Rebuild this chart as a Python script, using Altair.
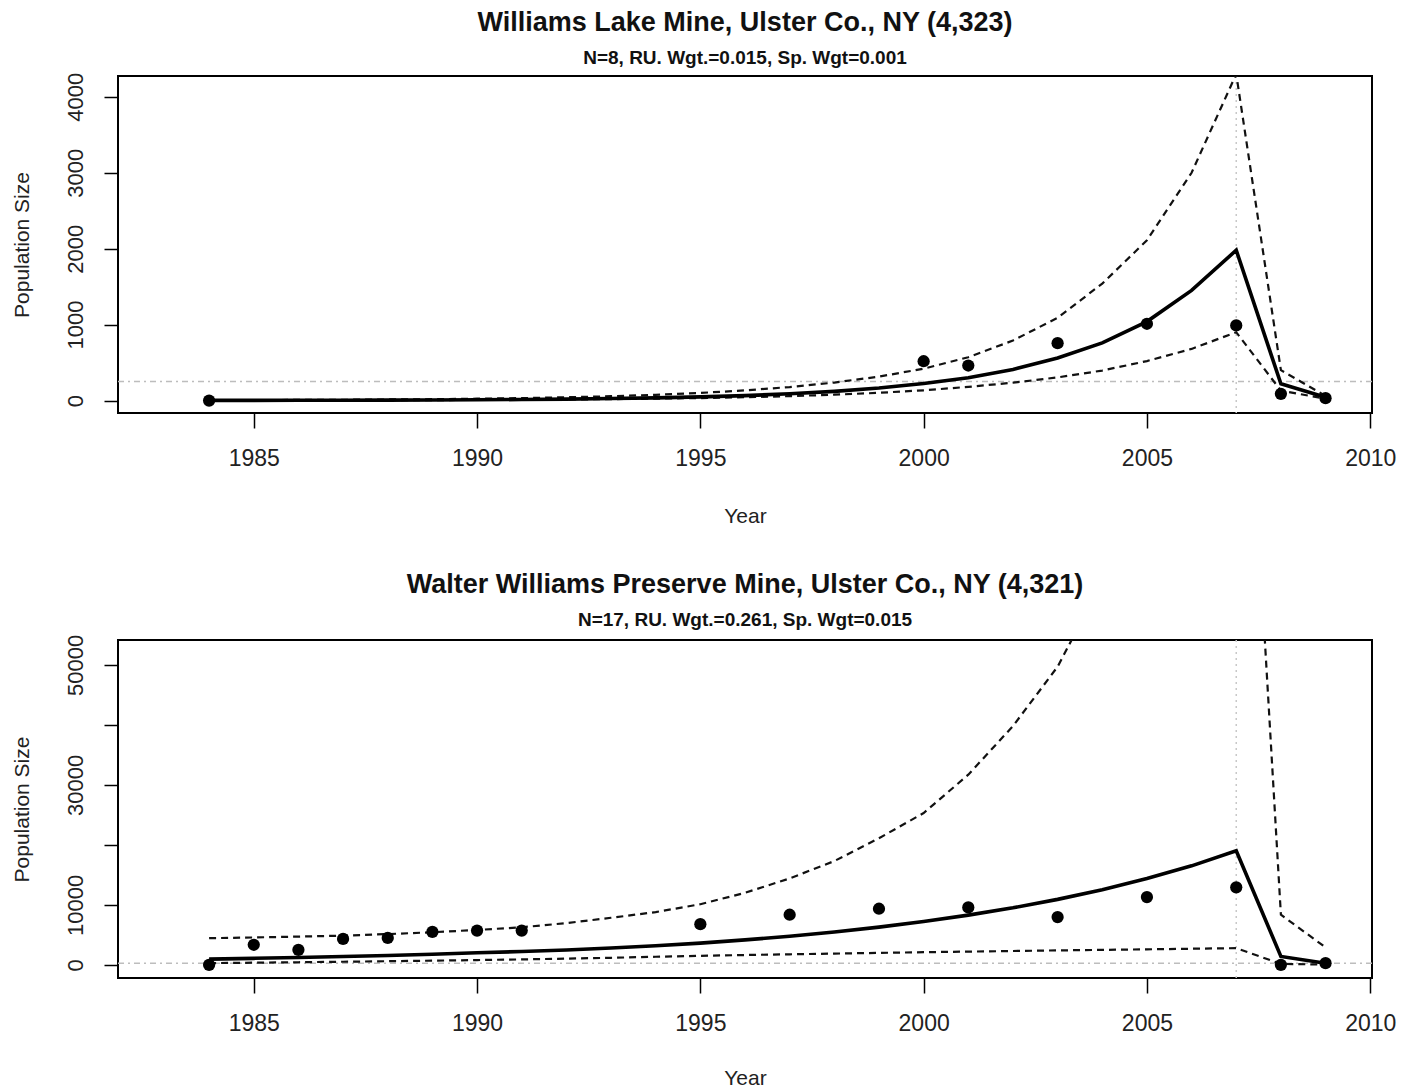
import altair as alt
import pandas as pd

# ---------------- data ----------------
years = [1984, 1985, 1986, 1987, 1988, 1989, 1990, 1991, 1992, 1993, 1994, 1995, 1996,
         1997, 1998, 1999, 2000, 2001, 2002, 2003, 2004, 2005, 2006, 2007, 2008, 2009]

# Panel 1: Williams Lake Mine
top_fit = [2, 2, 3, 4, 5, 7, 10, 14, 19, 26, 35, 48, 65, 89, 121, 165, 225, 300, 410, 560,
           760, 1040, 1450, 1980, 220, 44]
top_upper = [4, 6, 8, 10, 14, 18, 24, 32, 43, 57, 75, 100, 134, 178, 237, 315, 420, 570, 790,
             1090, 1540, 2110, 3000, 4300, 400, 60]
top_lower = [2, 2, 3, 4, 5, 6, 8, 11, 14, 19, 25, 33, 44, 58, 77, 102, 135, 180, 235, 305,
             395, 520, 680, 900, 130, 25]
top_obs_years = [1984, 2000, 2001, 2003, 2005, 2007, 2008, 2009]
top_obs = [0, 518, 461, 756, 1011, 989, 88, 31]

# Panel 2: Walter Williams Preserve Mine
bot_fit = [950, 1080, 1220, 1380, 1560, 1770, 2000, 2220, 2480, 2800, 3180, 3620, 4150, 4770,
           5470, 6280, 7210, 8280, 9500, 10910, 12520, 14380, 16500, 19000, 1390, 270]
bot_upper = [4440, 4560, 4700, 4860, 5120, 5430, 5810, 6260, 6950, 7840, 8790, 10100, 12000,
             14400, 17300, 21100, 25300, 31700, 39800, 49700, 63900, 82100, 105500, 135600,
             8350, 2900]
bot_lower = [280, 350, 430, 510, 600, 690, 790, 900, 1030, 1170, 1340, 1500, 1630, 1750, 1870,
             1990, 2100, 2200, 2300, 2400, 2490, 2580, 2680, 2780, 150, 40]
bot_obs_years = [1984, 1985, 1986, 1987, 1988, 1989, 1990, 1991, 1995, 1997, 1999, 2001, 2003,
                 2005, 2007, 2008, 2009]
bot_obs = [0, 3340, 2500, 4310, 4480, 5480, 5710, 5710, 6780, 8350, 9350, 9570, 7950, 11290,
           12910, 0, 270]

x_ticks = [1985, 1990, 1995, 2000, 2005, 2010]
x_domain = [1981.96, 2010.04]
threshold = 250
peak_year = 2007

FONT = "Liberation Sans"


def panel(title, subtitle, fit, upper, lower, obs_years, obs, y_domain, y_ticks,
          y_hidden, height, year_title_y):
    curves = pd.DataFrame({"year": years, "fit": fit, "upper": upper, "lower": lower})
    points = pd.DataFrame({"year": obs_years, "value": obs})

    label_expr = "datum.label"
    if y_hidden:
        cond = " || ".join(f"datum.value == {v}" for v in y_hidden)
        label_expr = f"({cond}) ? '' : datum.label"

    x_enc = alt.X("year:Q",
                  scale=alt.Scale(domain=x_domain, nice=False, zero=False),
                  axis=alt.Axis(values=x_ticks, format="d", title="Year",
                                titleFontSize=21, titleFontWeight="normal",
                                titleBaseline="alphabetic", titleY=year_title_y,
                                labelFontSize=23, labelBaseline="alphabetic",
                                labelPadding=37, tickSize=15, labelFlush=False,
                                labelOverlap=False, grid=False, domain=False))
    y_axis = alt.Axis(values=y_ticks, format="d", title="Population Size",
                      labelExpr=label_expr,
                      labelAngle=-90, labelAlign="center", labelBaseline="alphabetic",
                      labelFontSize=22, labelPadding=22, tickSize=14,
                      labelOverlap=False, labelFlush=False,
                      titleFontSize=21, titleFontWeight="normal", titleAngle=-90,
                      titleAlign="center", titleBaseline="alphabetic",
                      titleX=-90, titleY=height / 2, grid=False, domain=False)
    y_scale = alt.Scale(domain=y_domain, nice=False, zero=False)

    base = alt.Chart(curves)
    upper_line = base.mark_line(color="#111", strokeDash=[7, 5], strokeWidth=2.2,
                                clip=True).encode(
        x=x_enc, y=alt.Y("upper:Q", scale=y_scale, axis=y_axis))
    lower_line = base.mark_line(color="#111", strokeDash=[7, 5], strokeWidth=2.2,
                                clip=True).encode(
        x=x_enc, y=alt.Y("lower:Q", scale=y_scale, axis=y_axis))
    fit_line = base.mark_line(color="#000", strokeWidth=3.6, clip=True).encode(
        x=x_enc, y=alt.Y("fit:Q", scale=y_scale, axis=y_axis))
    pts = alt.Chart(points).mark_circle(color="#000", opacity=1, size=150,
                                        clip=True).encode(
        x=x_enc, y=alt.Y("value:Q", scale=y_scale, axis=y_axis))
    vrule = alt.Chart(pd.DataFrame({"year": [peak_year]})).mark_rule(
        color="#c8c8c8", strokeDash=[2, 4], strokeWidth=1.5).encode(x=x_enc)
    hrule = alt.Chart(pd.DataFrame({"value": [threshold]})).mark_rule(
        color="#bdbdbd", strokeDash=[6, 4, 2, 4], strokeWidth=1.5).encode(
        y=alt.Y("value:Q", scale=y_scale, axis=y_axis))

    return alt.layer(vrule, hrule, upper_line, lower_line, fit_line, pts).properties(
        width=1254, height=height,
        title=alt.TitleParams(text=title, subtitle=subtitle, anchor="middle",
                              font=FONT, fontSize=27, fontWeight="bold", color="#111",
                              subtitleFont=FONT, subtitleFontSize=19,
                              subtitleFontWeight="bold", subtitleColor="#111",
                              subtitlePadding=12, offset=3))


p1 = panel("Williams Lake Mine, Ulster Co., NY (4,323)",
           "N=8, RU. Wgt.=0.015, Sp. Wgt=0.001",
           top_fit, top_upper, top_lower, top_obs_years, top_obs,
           [-164, 4274], [0, 1000, 2000, 3000, 4000], [], 337, 109)
p2 = panel("Walter Williams Preserve Mine, Ulster Co., NY (4,321)",
           "N=17, RU. Wgt.=0.261, Sp. Wgt=0.015",
           bot_fit, bot_upper, bot_lower, bot_obs_years, bot_obs,
           [-2200, 54150], [0, 10000, 20000, 30000, 40000, 50000], [20000, 40000],
           338, 106)

chart = alt.vconcat(p1, p2, spacing=43).properties(
    padding={"left": 2, "top": 0, "right": 5, "bottom": 0}
).configure(font=FONT).configure_view(
    stroke="#000", strokeWidth=2
).configure_axis(
    labelFont=FONT, titleFont=FONT, labelColor="#222", titleColor="#222",
    tickColor="#000", tickWidth=1.5
)

chart.save("out.html", embed_options={"renderer": "svg", "actions": False})
